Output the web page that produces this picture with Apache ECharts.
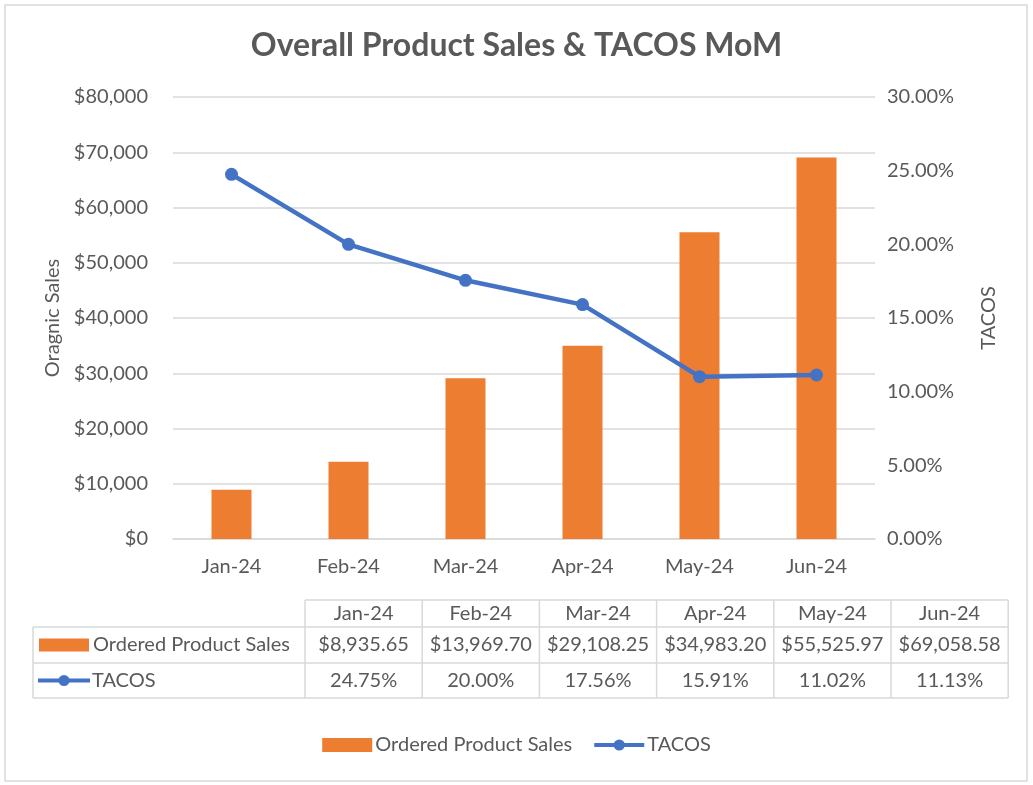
<!DOCTYPE html>
<html><head><meta charset="utf-8">
<script src="https://cdn.jsdelivr.net/npm/echarts@6/dist/echarts.min.js"></script>
<style>html,body{margin:0;padding:0;background:#fff}#c{width:1033px;height:785px}</style>
</head><body><div id="c"></div>
<script>
const categories = ['Jan-24','Feb-24','Mar-24','Apr-24','May-24','Jun-24'];
const salesValues = [8935.65, 13969.70, 29108.25, 34983.20, 55525.97, 69058.58];
const tacosValues = [24.75, 20.00, 17.56, 15.91, 11.02, 11.13];
const salesName = 'Ordered Product Sales';
const tacosName = 'TACOS';

const FONT = 'Lato, "Noto Sans", sans-serif';
const FS = 20;
const TXT = '#595959';
const ORANGE = '#ED7D31';
const BLUE = '#4472C4';
const LINEC = '#d9d9d9';

function fmtMoney(v){ return '$' + v.toLocaleString('en-US',{minimumFractionDigits:2, maximumFractionDigits:2}); }
function fmtPct(v){ return v.toFixed(2) + '%'; }

// table geometry
const tX0 = 33, tLab = 305, colW = 117.2;
const rows = [600, 627, 663, 698];
const graphics = [];
graphics.push({type:'rect', shape:{x:5,y:5,width:1022,height:776}, style:{fill:'none', stroke:LINEC, lineWidth:1.5}, silent:true});
const tRight = tLab + colW*categories.length;
graphics.push({type:'line', shape:{x1:tLab,y1:rows[0],x2:tRight,y2:rows[0]}, style:{stroke:LINEC,lineWidth:1.5}});
for (let r=1;r<rows.length;r++) graphics.push({type:'line', shape:{x1:tX0,y1:rows[r],x2:tRight,y2:rows[r]}, style:{stroke:LINEC,lineWidth:1.5}});
graphics.push({type:'line', shape:{x1:tX0,y1:rows[1],x2:tX0,y2:rows[3]}, style:{stroke:LINEC,lineWidth:1.5}});
for (let c=0;c<=categories.length;c++){
  const x = tLab + colW*c;
  graphics.push({type:'line', shape:{x1:x,y1:rows[0],x2:x,y2:rows[3]}, style:{stroke:LINEC,lineWidth:1.5}});
}
function cellText(txt, cx, cy, align){
  graphics.push({type:'text', x:cx, y:cy, style:{text:txt, font:FS+'px '+FONT, fill:TXT, textAlign:align||'center', textVerticalAlign:'middle'}});
}
categories.forEach((c,i)=>{
  const cx = tLab + colW*i + colW/2;
  cellText(c, cx, (rows[0]+rows[1])/2);
  cellText(fmtMoney(salesValues[i]), cx, (rows[1]+rows[2])/2);
  cellText(fmtPct(tacosValues[i]), cx, (rows[2]+rows[3])/2);
});
const r1y = (rows[1]+rows[2])/2, r2y = (rows[2]+rows[3])/2;
graphics.push({type:'rect', shape:{x:39,y:r1y-6.5,width:50,height:13}, style:{fill:ORANGE}});
cellText(salesName, 93, r1y, 'left');
graphics.push({type:'line', shape:{x1:38,y1:r2y,x2:90,y2:r2y}, style:{stroke:BLUE,lineWidth:4}});
graphics.push({type:'circle', shape:{cx:64,cy:r2y,r:5.5}, style:{fill:BLUE}});
cellText(tacosName, 92, r2y, 'left');

const chart = echarts.init(document.getElementById('c'));
chart.setOption({
  animation:false,
  backgroundColor:'#fff',
  title:{text:'Overall Product Sales & TACOS MoM', left:'center', top:25,
    textStyle:{fontFamily:FONT, fontSize:32, fontWeight:'bold', color:TXT}},
  legend:{bottom:25, left:'center', itemGap:20, itemWidth:50, itemHeight:14,
    textStyle:{fontFamily:FONT, fontSize:FS, color:TXT, padding:[0,0,0,-2]},
    data:[{name:salesName, icon:'rect'}, {name:tacosName, lineStyle:{width:4}, itemStyle:{}}]},
  grid:{left:173, right:158, top:97, bottom:246},
  xAxis:{type:'category', data:categories,
    axisLine:{lineStyle:{color:LINEC, width:1.5}}, axisTick:{show:false},
    axisLabel:{fontFamily:FONT, fontSize:FS, color:TXT, margin:18}},
  yAxis:[
    {type:'value', min:0, max:80000, interval:10000, name:'Oragnic Sales', nameLocation:'middle', nameRotate:90, nameGap:106,
     nameTextStyle:{fontFamily:FONT, fontSize:FS, color:TXT},
     axisLabel:{fontFamily:FONT, fontSize:FS, color:TXT, margin:25, formatter:v=>'$'+v.toLocaleString('en-US')},
     splitLine:{lineStyle:{color:LINEC, width:1.5}}, axisLine:{show:false}, axisTick:{show:false}},
    {type:'value', min:0, max:30, interval:5, name:'TACOS', nameLocation:'middle', nameRotate:90, nameGap:104,
     nameTextStyle:{fontFamily:FONT, fontSize:FS, color:TXT},
     axisLabel:{fontFamily:FONT, fontSize:FS, color:TXT, margin:12, formatter:v=>v.toFixed(2)+'%'},
     splitLine:{show:false}, axisLine:{show:false}, axisTick:{show:false}}
  ],
  series:[
    {name:salesName, type:'bar', data:salesValues, barWidth:40, itemStyle:{color:ORANGE}},
    {name:tacosName, type:'line', yAxisIndex:1, data:tacosValues, symbol:'circle', symbolSize:13,
     lineStyle:{color:BLUE, width:4.5}, itemStyle:{color:BLUE}}
  ],
  graphic:graphics
});
</script></body></html>
